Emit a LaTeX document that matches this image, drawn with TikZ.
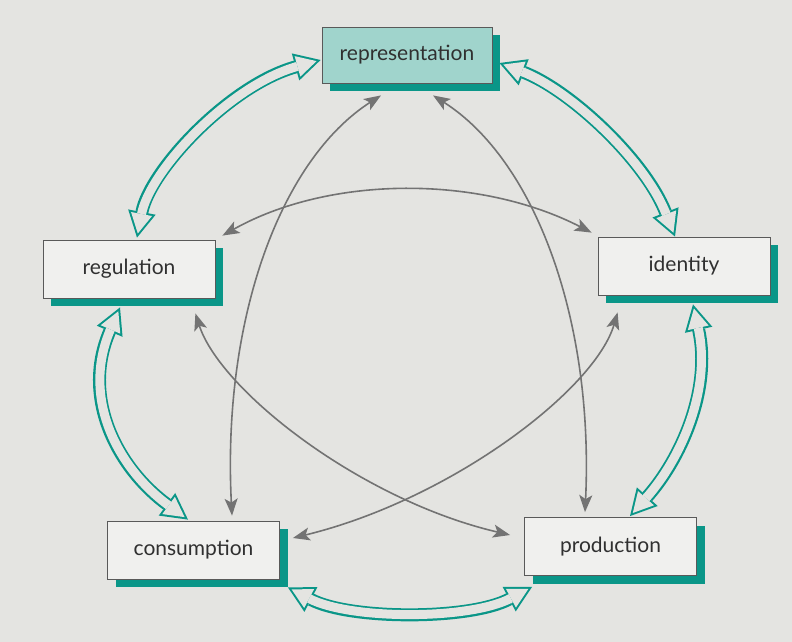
\documentclass[tikz,border=0pt]{standalone}
\usepackage{fontspec}
\setmainfont{Lato}
\usetikzlibrary{arrows.meta,shadows,calc}
\definecolor{bg}{RGB}{228,228,225}
\definecolor{tealc}{RGB}{10,150,136}
\definecolor{reptl}{RGB}{160,212,204}
\definecolor{boxf}{RGB}{240,240,238}
\definecolor{arrg}{RGB}{115,115,115}
\definecolor{txt}{RGB}{48,48,48}
\newcommand\tealarrow[4]{%
  \draw[tout] #1 .. controls #2 and #3 .. #4;
  \draw[tin] #1 .. controls #2 and #3 .. #4;}
\begin{document}
\begin{tikzpicture}[x=1pt,y=-1pt,
  box/.style={draw=black!65, line width=0.8pt, fill=boxf, minimum width=172pt, minimum height=58pt, inner sep=0pt, text=txt, font=\fontsize{21}{25}\selectfont, drop shadow={shadow xshift=8pt, shadow yshift=-8pt, fill=tealc, opacity=1}},
  gline/.style={draw=arrg, line width=1.6pt, {Stealth[length=17pt,width=13pt,inset=4pt]}-{Stealth[length=17pt,width=13pt,inset=4pt]}},
  tout/.style={draw=tealc, line width=13pt, {Triangle[length=26pt,width=28pt,line width=0pt]}-{Triangle[length=26pt,width=28pt,line width=0pt]}},
  tin/.style={draw=bg, line width=9pt, shorten <=4.2pt, shorten >=4.2pt, {Triangle[length=19.8pt,width=21.3pt,line width=0pt]}-{Triangle[length=19.8pt,width=21.3pt,line width=0pt]}},
]
\fill[bg] (0,0) rectangle (792,642);
\useasboundingbox (0,0) rectangle (792,642);

\node[box, fill=reptl, minimum width=170pt, minimum height=56pt] (rep) at (407,55) {representation};
\node[box] (reg) at (129,269) {regulation};
\node[box] (ide) at (684,266) {identity};
\node[box] (con) at (193.5,550) {consumption};
\node[box] (pro) at (610.5,546.5) {production};

% grey connectors
\draw[gline] ($(rep.south)+(-26,12)$) .. controls (280,160) and (222,320) .. ($(con.north)+(38.5,-5)$);
\draw[gline] ($(rep.south)+(26,12)$) .. controls (535,160) and (594,320) .. ($(pro.north)+(-25.5,-5)$);
\draw[gline] ($(reg.north east)+(7,-4)$) .. controls (330,175) and (480,175) .. ($(ide.north west)+(-6,-4)$);
\draw[gline] ($(reg.south east)+(-20,15)$) .. controls (220,390) and (360,500) .. ($(pro.west)+(-14,-11.5)$);
\draw[gline] ($(ide.south west)+(20,17)$) .. controls (595,390) and (450,500) .. ($(con.east)+(13,-12)$);

% teal double arrows
\tealarrow{($(rep.west)+(-1,5)$)}{(230,85)}{(150,170)}{($(reg.north)+(8,-2)$)}
\tealarrow{($(rep.east)+(7,8)$)}{(570,90)}{(645,160)}{($(ide.north)+(-9,0)$)}
\tealarrow{($(ide.south)+(9,9)$)}{(712,390)}{(680,460)}{($(pro.north)+(19.5,-1)$)}
\tealarrow{($(reg.south)+(-9,9)$)}{(80,400)}{(120,470)}{($(con.north)+(-5.5,-1)$)}
\tealarrow{($(con.south east)+(8,8)$)}{(350,620)}{(470,620)}{($(pro.south west)+(8,11)$)}
\end{tikzpicture}
\end{document}
